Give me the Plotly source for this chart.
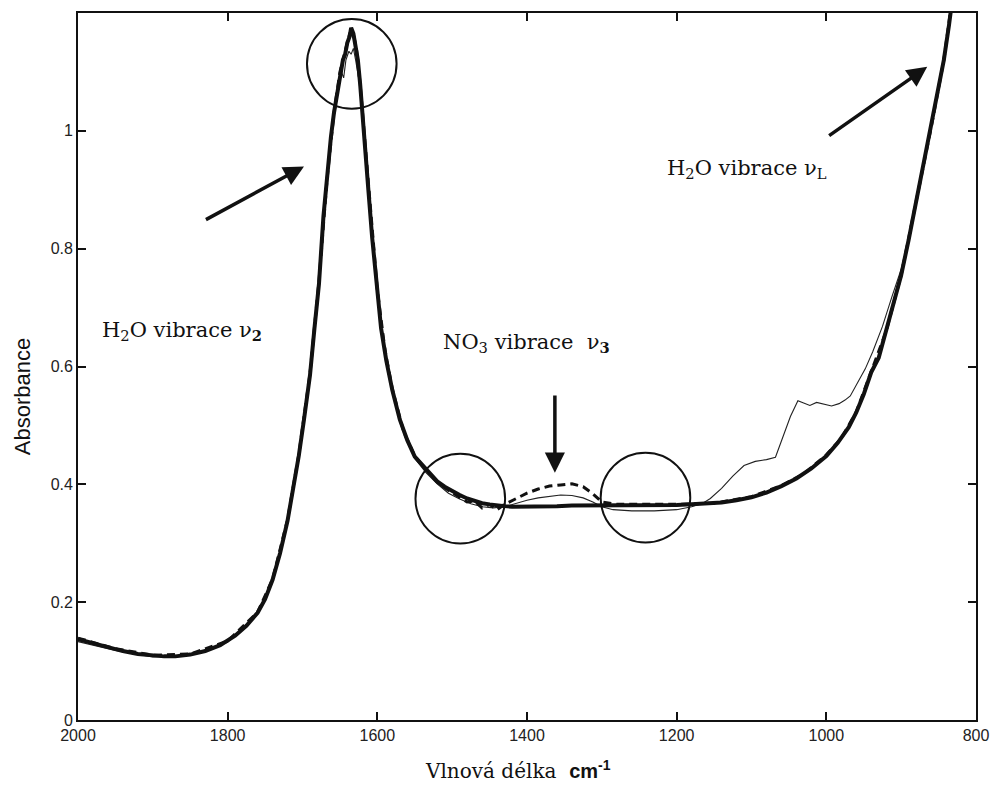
import plotly.graph_objects as go

# ---------------- data ----------------
wn_main = [2000,1980,1960,1940,1920,1900,1885,1870,1850,1830,1810,1790,1775,1760,1750,1740,1730,1720,1712,1705,1698,1690,1684,1678,1672,1667,1662,1658,1654,1650,1646,1643,1640,1637,1635,1632,1629,1626,1623,1620,1616,1612,1607,1601,1595,1588,1580,1570,1560,1550,1540,1530,1520,1510,1500,1490,1480,1470,1460,1450,1440,1430,1420,1400,1380,1360,1340,1320,1300,1280,1250,1220,1200,1180,1160,1140,1120,1100,1080,1060,1040,1020,1000,985,970,960,950,940,930,920,910,900,890,880,870,860,850,843,836,828]
abs_main = [0.137,0.130,0.123,0.117,0.112,0.109,0.108,0.108,0.111,0.117,0.127,0.143,0.160,0.182,0.205,0.238,0.283,0.338,0.393,0.448,0.510,0.585,0.665,0.740,0.855,0.925,0.990,1.030,1.060,1.100,1.120,1.130,1.150,1.160,1.175,1.165,1.140,1.120,1.080,1.035,0.970,0.900,0.820,0.740,0.665,0.610,0.560,0.510,0.475,0.447,0.433,0.418,0.405,0.396,0.388,0.382,0.376,0.372,0.368,0.366,0.364,0.363,0.362,0.362,0.363,0.363,0.364,0.364,0.365,0.365,0.365,0.365,0.365,0.366,0.367,0.369,0.373,0.378,0.386,0.397,0.410,0.427,0.448,0.470,0.497,0.522,0.553,0.590,0.615,0.660,0.705,0.755,0.815,0.880,0.940,1.005,1.070,1.120,1.180,1.260]

wn_dash = [2000,1950,1900,1850,1800,1760,1740,1720,1705,1690,1678,1667,1658,1650,1643,1637,1633,1628,1623,1617,1610,1600,1590,1580,1565,1550,1535,1520,1505,1490,1480,1470,1460,1450,1440,1430,1415,1400,1385,1370,1355,1340,1325,1312,1300,1280,1250,1200,1150,1100,1060,1030,1000,980,960,940,920,900,880,860,843,836,828]
abs_dash = [0.139,0.121,0.110,0.112,0.134,0.183,0.239,0.340,0.450,0.588,0.745,0.920,1.030,1.100,1.135,1.165,1.170,1.140,1.080,0.990,0.870,0.730,0.630,0.562,0.490,0.448,0.425,0.404,0.390,0.378,0.370,0.372,0.360,0.366,0.357,0.366,0.375,0.385,0.392,0.397,0.399,0.401,0.396,0.384,0.370,0.366,0.366,0.366,0.368,0.379,0.398,0.418,0.450,0.478,0.523,0.590,0.660,0.755,0.880,1.005,1.120,1.180,1.260]

wn_thin = [2000,1950,1900,1850,1800,1760,1740,1720,1705,1690,1678,1667,1660,1656,1652,1648,1645,1642,1638,1635,1632,1629,1625,1620,1612,1601,1590,1580,1565,1550,1535,1520,1505,1490,1475,1460,1445,1430,1415,1400,1385,1370,1355,1340,1325,1312,1300,1285,1260,1230,1200,1180,1165,1155,1140,1125,1110,1095,1080,1068,1058,1048,1038,1030,1022,1013,1003,993,983,975,968,958,948,938,925,912,900,890,880,860,843,836,828]
abs_thin = [0.133,0.118,0.107,0.110,0.132,0.180,0.235,0.336,0.446,0.583,0.740,0.915,1.000,1.040,1.080,1.100,1.090,1.120,1.135,1.130,1.140,1.120,1.090,1.030,0.895,0.738,0.628,0.558,0.488,0.444,0.420,0.401,0.385,0.375,0.367,0.362,0.360,0.362,0.368,0.373,0.377,0.380,0.382,0.381,0.377,0.370,0.362,0.357,0.355,0.355,0.357,0.362,0.368,0.376,0.393,0.414,0.432,0.439,0.442,0.446,0.480,0.515,0.542,0.538,0.534,0.539,0.536,0.533,0.537,0.543,0.550,0.572,0.596,0.625,0.668,0.720,0.765,0.815,0.880,1.005,1.120,1.180,1.260]

x_ticks = [2000, 1800, 1600, 1400, 1200, 1000, 800]
y_ticks = [0, 0.2, 0.4, 0.6, 0.8, 1.0]
y_tick_text = ["0", "0.2", "0.4", "0.6", "0.8", "1"]

# ---------------- layout helpers (pixel -> data) ----------------
L, R, T, B = 78, 980, 11, 720
XMAX, XMIN, YMAX = 2000, 800, 1.2

def px2w(px):
    return XMAX - (px - L) * (XMAX - XMIN) / (R - L)

def py2v(py):
    return (B - py) * YMAX / (B - T)

fig = go.Figure()
fig.add_trace(go.Scatter(x=wn_thin, y=abs_thin, mode="lines",
                         line=dict(color="#222", width=1.1), showlegend=False))
fig.add_trace(go.Scatter(x=wn_dash, y=abs_dash, mode="lines",
                         line=dict(color="#111", width=3, dash="8px,5px"), showlegend=False))
fig.add_trace(go.Scatter(x=wn_main, y=abs_main, mode="lines",
                         line=dict(color="#111", width=4), showlegend=False))

# circles
for (cx, cy, r) in [(353, 62, 45), (462, 498, 45), (648, 497, 45)]:
    fig.add_shape(type="circle", xref="x", yref="y",
                  x0=px2w(cx - r), x1=px2w(cx + r), y0=py2v(cy + r), y1=py2v(cy - r),
                  line=dict(color="#111", width=2))

# arrows
for (tx, ty, hx, hy) in [(205, 219, 305, 165), (831, 135, 931, 65), (557, 393, 557, 472)]:
    fig.add_annotation(x=px2w(hx), y=py2v(hy), ax=px2w(tx), ay=py2v(ty),
                       xref="x", yref="y", axref="x", ayref="y", text="",
                       showarrow=True, arrowhead=2, arrowsize=1.15, arrowwidth=3.5,
                       arrowcolor="#111", standoff=0)

serif = "DejaVu Serif"
txt_font = dict(family=serif, size=21, color="#111")
fig.add_annotation(x=px2w(100), y=py2v(330), xref="x", yref="y", xanchor="left", yanchor="middle",
                   text="H<sub>2</sub>O vibrace ν<sub><b>2</b></sub>", showarrow=False, font=txt_font)
fig.add_annotation(x=px2w(443), y=py2v(342), xref="x", yref="y", xanchor="left", yanchor="middle",
                   text="NO<sub>3</sub> vibrace  ν<sub><b>3</b></sub>", showarrow=False, font=txt_font)
fig.add_annotation(x=px2w(668), y=py2v(167), xref="x", yref="y", xanchor="left", yanchor="middle",
                   text="H<sub>2</sub>O vibrace ν<sub>L</sub>", showarrow=False, font=txt_font)

# axis titles
fig.add_annotation(x=(23 - L) / (R - L), y=(B - 396) / (B - T), xref="paper", yref="paper",
                   xanchor="center", yanchor="middle",
                   text="Absorbance", textangle=-90, showarrow=False,
                   font=dict(family="Liberation Sans", size=22, color="#111"))
fig.add_annotation(x=(520 - L) / (R - L), y=(B - 770) / (B - T), xref="paper", yref="paper",
                   xanchor="center", yanchor="middle",
                   text="Vlnová délka  <span style='font-family:Liberation Sans;font-weight:bold'>cm<sup>-1</sup></span>",
                   showarrow=False, font=dict(family=serif, size=20, color="#111"))

axis_common = dict(showline=True, linecolor="#111", linewidth=1.8, mirror="ticks",
                   ticks="inside", ticklen=8, tickwidth=1.5, tickcolor="#111",
                   showgrid=False, zeroline=False,
                   tickfont=dict(family="Liberation Sans", size=16, color="#222"))

fig.update_xaxes(range=[XMAX, XMIN], tickvals=x_ticks, ticktext=[str(v) for v in x_ticks], **axis_common)
fig.update_yaxes(range=[0, YMAX], tickvals=y_ticks, ticktext=y_tick_text, **axis_common)

fig.update_layout(width=1000, height=785, margin=dict(l=L, r=1000 - R, t=T, b=785 - B),
                  plot_bgcolor="white", paper_bgcolor="white")

fig.write_html("out.html")
